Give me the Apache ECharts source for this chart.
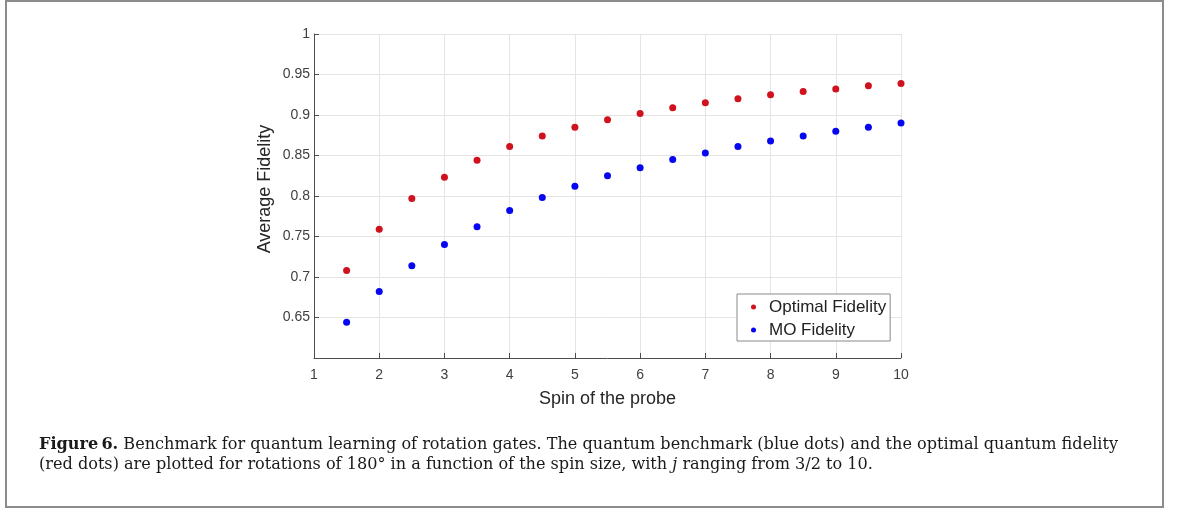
<!DOCTYPE html>
<html>
<head>
<meta charset="utf-8">
<script src="https://cdn.jsdelivr.net/npm/echarts@6/dist/echarts.min.js"></script>
<style>
  html, body { margin: 0; padding: 0; background: #fff; }
  #chart { width: 1179px; height: 509px; }
</style>
</head>
<body>
<div id="chart"></div>
<script>
// spin j of the probe
var spin = [1.5, 2, 2.5, 3, 3.5, 4, 4.5, 5, 5.5, 6, 6.5, 7, 7.5, 8, 8.5, 9, 9.5, 10];
// average fidelity
var optimalFidelity = [0.708, 0.759, 0.797, 0.823, 0.844, 0.861, 0.874, 0.885, 0.894,
                       0.902, 0.909, 0.915, 0.920, 0.925, 0.929, 0.932, 0.936, 0.939];
var moFidelity = [0.644, 0.682, 0.714, 0.740, 0.762, 0.782, 0.798, 0.812, 0.825,
                  0.835, 0.845, 0.853, 0.861, 0.868, 0.874, 0.880, 0.885, 0.890];
var seriesNames = ['Optimal Fidelity', 'MO Fidelity'];
var captionLine1 = '{b|Figure\u20096.} Benchmark for quantum learning of rotation gates. The quantum benchmark (blue dots) and the optimal quantum fidelity';
var captionLine2 = '(red dots) are plotted for rotations of 180\u00b0 in a function of the spin size, with {i|j} ranging from 3/2 to 10.';

function pairs(xs, ys) {
  return xs.map(function(x, i) { return [x, ys[i]]; });
}

var red = '#d0121e';
var blue = '#0606f0';
var axisColor = '#4d4d4d';
var gridColor = '#e4e4e4';
var sans = '"Liberation Sans", Arial, sans-serif';
var serif = '"DejaVu Serif", serif';
var capSize = 16.1;

var chart = echarts.init(document.getElementById('chart'), null, { renderer: 'canvas' });
chart.setOption({
  animation: false,
  backgroundColor: '#fff',
  grid: { left: 314, right: 278, top: 34, bottom: 151 },
  legend: {
    data: seriesNames,
    orient: 'vertical',
    left: 737,
    top: 294,
    padding: [4, 4, 2, 14],
    itemWidth: 21,
    itemHeight: 5,
    itemGap: 5,
    icon: 'circle',
    selectedMode: false,
    borderColor: '#8a8a8a',
    borderWidth: 1,
    backgroundColor: '#fff',
    textStyle: { fontFamily: sans, fontSize: 17, color: '#222', lineHeight: 18, padding: 0 }
  },
  xAxis: {
    type: 'value',
    min: 1,
    max: 10,
    interval: 1,
    name: 'Spin of the probe',
    nameLocation: 'middle',
    nameGap: 32,
    nameTextStyle: { fontFamily: sans, fontSize: 18, color: '#262626' },
    axisLine: { onZero: false, lineStyle: { color: axisColor, width: 1 } },
    axisTick: { inside: true, length: 5, lineStyle: { color: axisColor } },
    axisLabel: { fontFamily: sans, fontSize: 14, color: '#404040', margin: 10 },
    splitLine: { show: true, lineStyle: { color: gridColor, width: 1 } }
  },
  yAxis: {
    type: 'value',
    min: 0.6,
    max: 1,
    interval: 0.05,
    name: 'Average Fidelity',
    nameLocation: 'middle',
    nameGap: 40,
    nameTextStyle: { fontFamily: sans, fontSize: 18, color: '#262626', padding: [0, 0, 0, 14] },
    axisLine: { onZero: false, lineStyle: { color: axisColor, width: 1 } },
    axisTick: { inside: true, length: 5, lineStyle: { color: axisColor } },
    axisLabel: {
      fontFamily: sans, fontSize: 14, color: '#404040', margin: 4,
      formatter: function(v) { return Math.abs(v - 0.6) < 1e-9 ? '' : String(+v.toFixed(2)); }
    },
    splitLine: { show: true, lineStyle: { color: gridColor, width: 1 } }
  },
  series: [
    {
      name: seriesNames[0],
      type: 'scatter',
      data: pairs(spin, optimalFidelity),
      symbolSize: 7,
      itemStyle: { color: red, opacity: 1 }
    },
    {
      name: seriesNames[1],
      type: 'scatter',
      data: pairs(spin, moFidelity),
      symbolSize: 7,
      itemStyle: { color: blue, opacity: 1 }
    }
  ],
  graphic: [
    {
      type: 'rect',
      silent: true,
      shape: { x: 6, y: 1, width: 1157, height: 506 },
      style: { fill: 'none', stroke: '#8c8c8c', lineWidth: 2 }
    },
    {
      type: 'text',
      silent: true,
      x: 39,
      y: 445,
      style: {
        text: captionLine1,
        fontFamily: serif,
        fontSize: capSize,
        fill: '#1a1a1a',
        verticalAlign: 'middle',
        rich: { b: { fontFamily: serif, fontSize: capSize, fontWeight: 'bold', fill: '#1a1a1a' } }
      }
    },
    {
      type: 'text',
      silent: true,
      x: 39,
      y: 465,
      style: {
        text: captionLine2,
        fontFamily: serif,
        fontSize: capSize,
        fill: '#1a1a1a',
        verticalAlign: 'middle',
        rich: { i: { fontFamily: serif, fontSize: capSize, fontStyle: 'italic', fill: '#1a1a1a' } }
      }
    }
  ]
});
window.addEventListener('resize', function() { chart.resize(); });
</script>
</body>
</html>
